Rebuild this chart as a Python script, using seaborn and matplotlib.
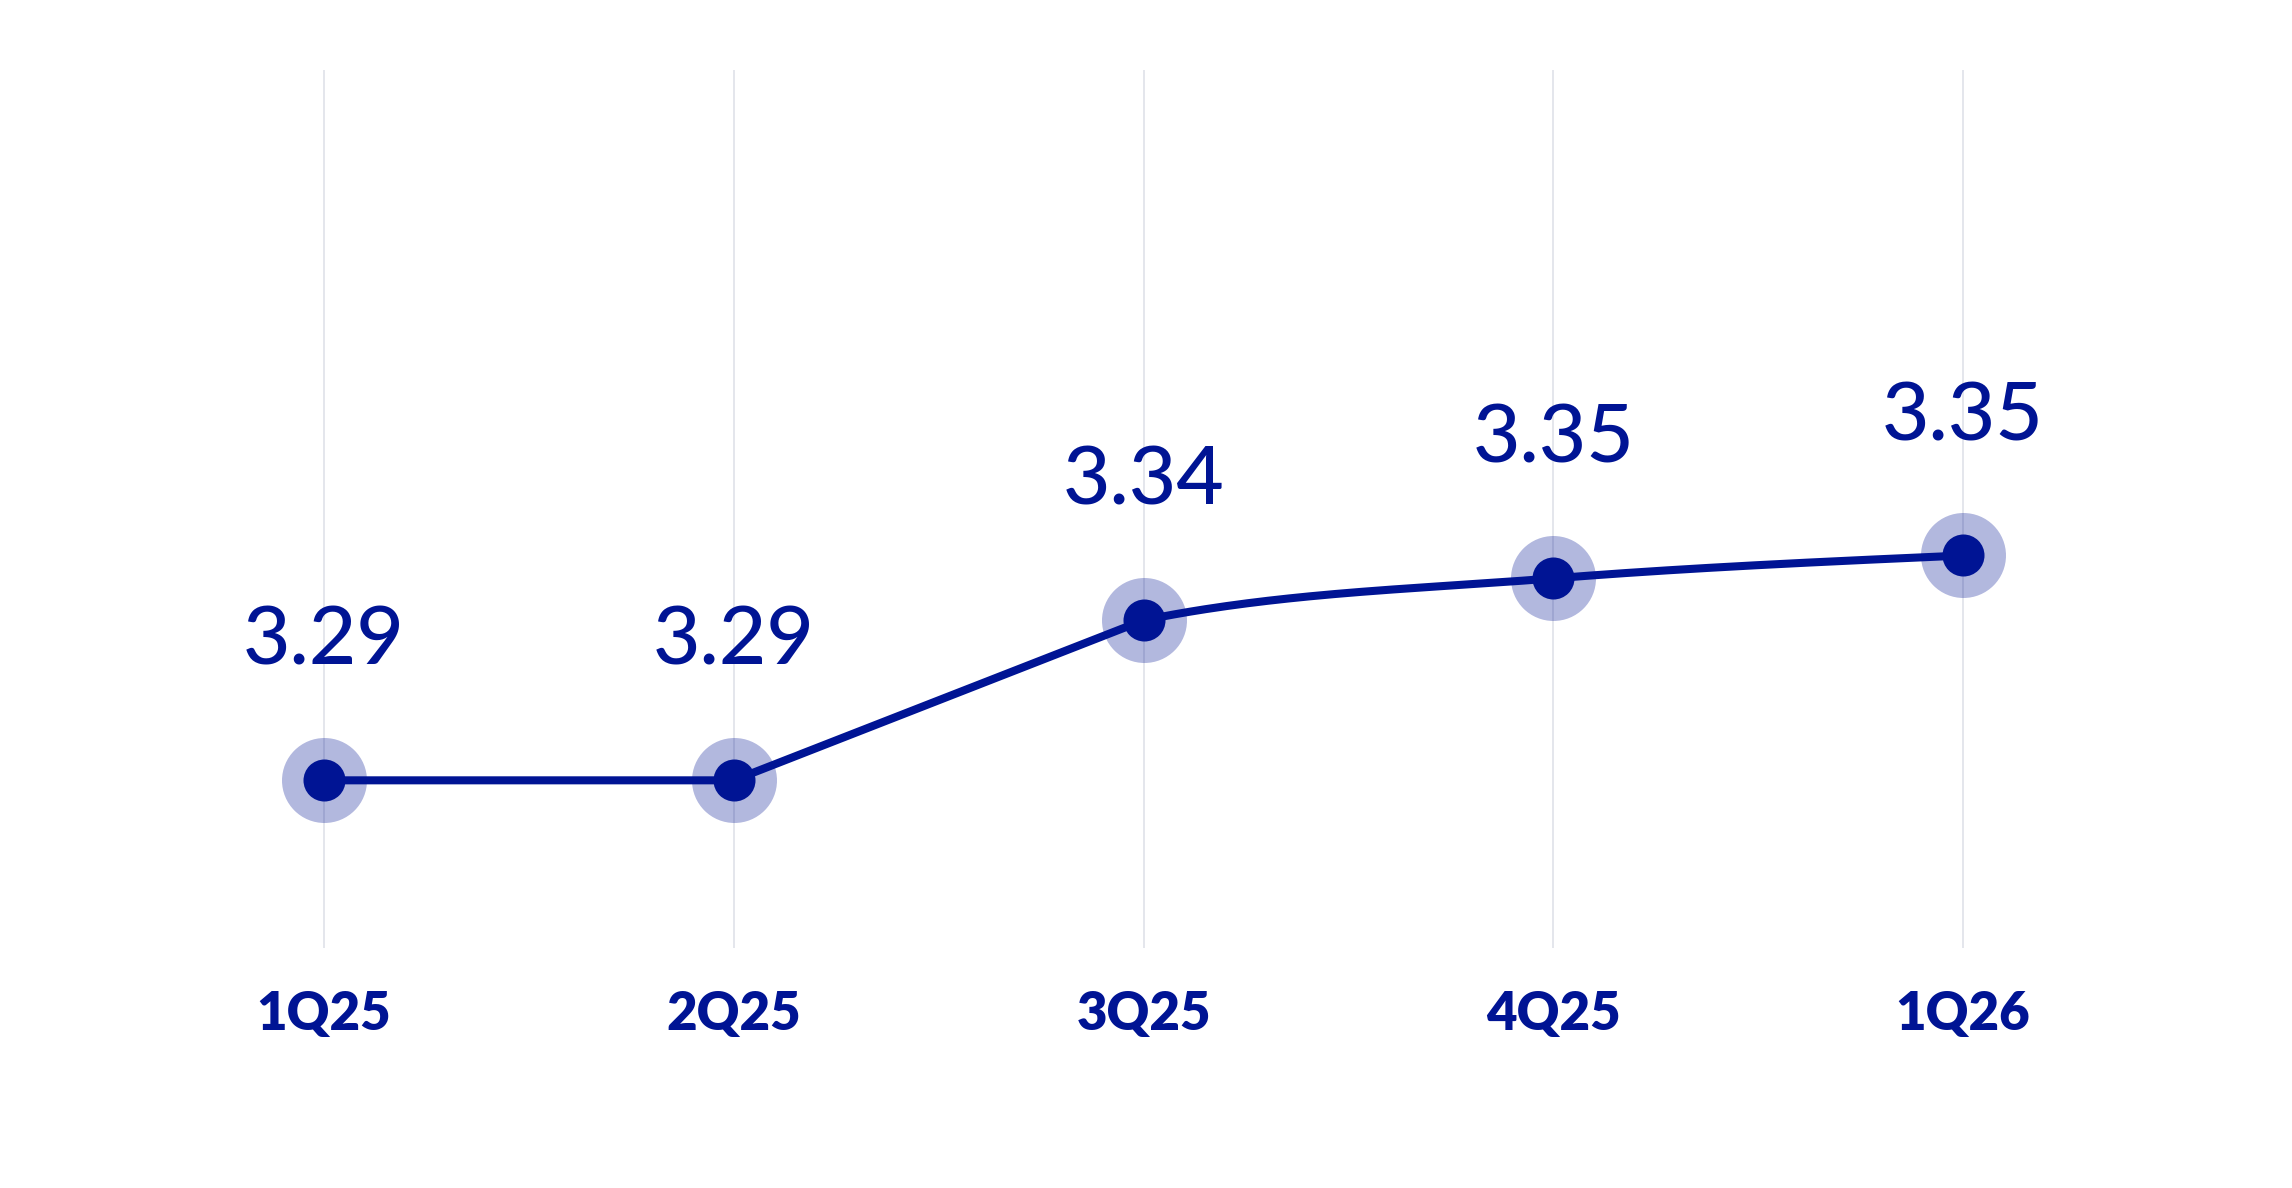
import numpy as np
import seaborn as sns
import matplotlib.pyplot as plt

sns.set_theme(style="white")
plt.rcParams['font.family'] = ['Lato', 'DejaVu Sans']

# data
quarters = ["1Q25", "2Q25", "3Q25", "4Q25", "1Q26"]
values = [3.294, 3.294, 3.336, 3.347, 3.353]

navy = "#001494"
grid_col = "#E2E4EB"

x = np.arange(len(quarters), dtype=float)
y = np.array(values)

# monotone (d3 style) tangents for the smooth line
s = np.diff(y) / np.diff(x)
m = np.zeros(len(y))
for i in range(1, len(y) - 1):
    p = (s[i - 1] + s[i]) / 2
    m[i] = (np.sign(s[i - 1]) + np.sign(s[i])) * min(abs(s[i - 1]), abs(s[i]), 0.5 * abs(p))
m[0] = (3 * s[0] - m[1]) / 2
m[-1] = (3 * s[-1] - m[-2]) / 2

xx, yy = [], []
t = np.linspace(0, 1, 80)
for i in range(len(y) - 1):
    flat_near = s[i] == 0 or (i > 0 and s[i - 1] == 0)
    if flat_near:
        seg = y[i] + t * (y[i + 1] - y[i])
    else:
        h00 = 2 * t**3 - 3 * t**2 + 1
        h10 = t**3 - 2 * t**2 + t
        h01 = -2 * t**3 + 3 * t**2
        h11 = t**3 - t**2
        seg = h00 * y[i] + h10 * m[i] + h01 * y[i + 1] + h11 * m[i + 1]
    xx.extend(x[i] + t)
    yy.extend(seg)

fig = plt.figure(figsize=(22.92, 11.88), dpi=100)
ax = fig.add_axes([119 / 2292, 240 / 1188, 2049 / 2292, 878 / 1188])

ax.grid(axis='x', color=grid_col, linewidth=1.3, zorder=0)
ax.set_axisbelow(True)

sns.scatterplot(x=x, y=y, s=3745, color=navy, alpha=0.3, linewidth=0, ax=ax, zorder=2)
sns.lineplot(x=xx, y=yy, sort=False, estimator=None, color=navy, linewidth=5.8, ax=ax, zorder=3)
sns.scatterplot(x=x, y=y, s=915, color=navy, linewidth=0, ax=ax, zorder=4)

for xi, v in zip(x, values):
    ax.annotate(f"{v:.2f}", (xi, v), xytext=(0, 73), textcoords="offset points",
                ha="center", va="bottom", fontsize=59, fontweight="medium", color=navy)

ax.set_xlim(-0.5, 4.5)
ax.set_ylim(3.25, 3.4804)
ax.set_xticks(x)
ax.set_xticklabels(quarters, fontsize=38, fontweight=800, color=navy)
ax.set_yticks([])
ax.tick_params(axis='x', length=0, pad=30)
ax.set_xlabel("")
ax.set_ylabel("")
for sp in ax.spines.values():
    sp.set_visible(False)

fig.savefig("out.png", dpi=100, facecolor="white")
